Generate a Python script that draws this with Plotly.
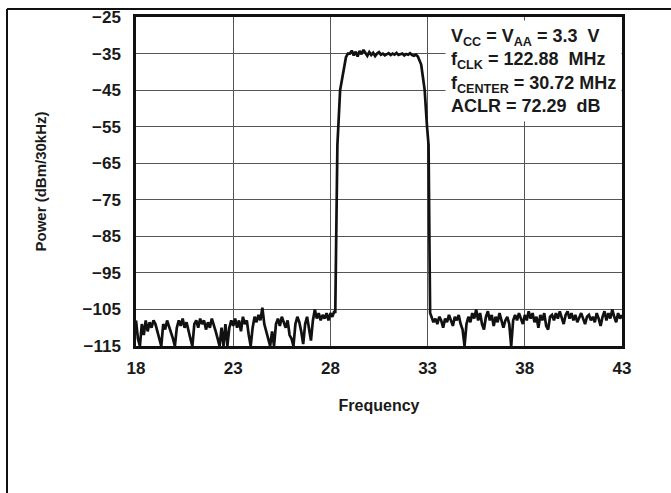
import plotly.graph_objects as go

# ---- data ----
freq_low = [18.0, 18.1, 18.2, 18.3, 18.4, 18.5, 18.6, 18.7, 18.8, 18.9,
            19.0, 19.1, 19.2, 19.3, 19.4, 19.5, 19.6, 19.7, 19.8, 19.9,
            20.0, 20.1, 20.2, 20.3, 20.4, 20.5, 20.6, 20.7, 20.8, 20.9,
            21.0, 21.1, 21.2, 21.3, 21.4, 21.5, 21.6, 21.7, 21.8, 21.9,
            22.0, 22.1, 22.2, 22.3, 22.4, 22.5, 22.6, 22.7, 22.8, 22.9,
            23.0, 23.1, 23.2, 23.3, 23.4, 23.5, 23.6, 23.7, 23.8, 23.9,
            24.0, 24.1, 24.2, 24.3, 24.4, 24.5, 24.6, 24.7, 24.8, 24.9,
            25.0, 25.1, 25.2, 25.3, 25.4, 25.5, 25.6, 25.7, 25.8, 25.9,
            26.0, 26.1, 26.2, 26.3, 26.4, 26.5, 26.6, 26.7, 26.8, 26.9,
            27.0, 27.1, 27.2, 27.3, 27.4, 27.5, 27.6, 27.7, 27.8, 27.9,
            28.0, 28.1, 28.2]
power_low = [-108, -113, -115, -109, -112, -108, -111, -108.5, -110, -108,
             -109, -111, -113, -115, -109, -110.5, -108, -109.5, -111, -113,
             -115, -110, -108, -109.5, -107.5, -110, -108.5, -111, -113, -115,
             -109, -108, -110, -107.5, -109, -108, -110.5, -108.5, -110, -107.5,
             -109, -111, -113, -115, -110, -115, -109, -115, -110, -108,
             -109.5, -107.5, -110, -108, -111, -107, -109, -108, -112, -115,
             -110, -107, -108.5, -106.5, -108, -104.5, -109, -111, -113, -115,
             -111, -115, -109, -107.5, -109.5, -107, -108.5, -110, -108, -112,
             -113, -115, -109, -107, -108.5, -111, -114.5, -109, -107, -110,
             -113.5, -108, -105, -107.5, -106, -108, -106.5, -107.5, -106, -108,
             -106, -107, -105.5]

freq_band = [28.25, 28.28, 28.33, 28.36, 28.5, 28.67, 28.8, 28.9,
             29.0, 29.1, 29.2, 29.3, 29.4, 29.5, 29.6, 29.7, 29.8, 29.9,
             30.0, 30.1, 30.2, 30.3, 30.4, 30.5, 30.6, 30.7, 30.8, 30.9,
             31.0, 31.1, 31.2, 31.3, 31.4, 31.5, 31.6, 31.7, 31.8, 31.9,
             32.0, 32.1, 32.2, 32.3, 32.4, 32.5, 32.67, 32.85, 32.97, 33.05,
             33.1, 33.13]
power_band = [-106, -90, -70, -60, -45, -39.5, -36, -35,
              -35, -34.2, -35.5, -34.5, -35.8, -34.3, -35.2, -34.0, -35.0, -35.6,
              -34.6, -35.4, -34.8, -35.7, -35.0, -34.6, -35.3, -35.0, -35.5, -35.1,
              -34.9, -35.4, -35.0, -35.3, -34.8, -35.4, -35.2, -35.0, -35.5, -35.1,
              -35.3, -34.9, -35.4, -35.6, -35.3, -35.8, -38, -45, -55, -60,
              -90, -106]

freq_high = [33.2, 33.3, 33.4, 33.5, 33.6, 33.7, 33.8, 33.9,
             34.0, 34.1, 34.2, 34.3, 34.4, 34.5, 34.6, 34.7, 34.8, 34.9,
             35.0, 35.1, 35.2, 35.3, 35.4, 35.5, 35.6, 35.7, 35.8, 35.9,
             36.0, 36.1, 36.2, 36.3, 36.4, 36.5, 36.6, 36.7, 36.8, 36.9,
             37.0, 37.1, 37.2, 37.3, 37.4, 37.5, 37.6, 37.7, 37.8, 37.9,
             38.0, 38.1, 38.2, 38.3, 38.4, 38.5, 38.6, 38.7, 38.8, 38.9,
             39.0, 39.1, 39.2, 39.3, 39.4, 39.5, 39.6, 39.7, 39.8, 39.9,
             40.0, 40.1, 40.2, 40.3, 40.4, 40.5, 40.6, 40.7, 40.8, 40.9,
             41.0, 41.1, 41.2, 41.3, 41.4, 41.5, 41.6, 41.7, 41.8, 41.9,
             42.0, 42.1, 42.2, 42.3, 42.4, 42.5, 42.6, 42.7, 42.8, 42.9,
             43.0]
power_high = [-107, -108.5, -107.5, -109, -107, -108, -110, -107.5,
              -108.5, -106.5, -108, -109.5, -107, -108, -106.5, -109, -110.5, -115,
              -109, -107, -108.5, -106, -107.5, -105, -108, -106, -109, -110.5,
              -107, -105.5, -108, -106.5, -109.5, -107, -108.5, -106, -108, -110,
              -108, -107, -109, -115, -108, -106.5, -108, -106, -107.5, -109,
              -106.5, -108, -105.5, -107.5, -106, -108.5, -107, -110, -106.5, -108,
              -106, -109.5, -110.5, -107, -106.5, -108, -106, -107.5, -105.5, -107,
              -109, -106.5, -105.5, -107.5, -106, -108, -106.5, -108.5, -107, -106,
              -107.5, -109, -107, -106.5, -108, -107, -108.5, -106, -107.5, -109.5,
              -107, -105.5, -108, -106, -107.5, -105, -107, -108.5, -106, -107.5,
              -106.5]

x_ticks = [18, 23, 28, 33, 38, 43]
y_ticks = [-25, -35, -45, -55, -65, -75, -85, -95, -105, -115]

# ---- figure ----
freq = freq_low + freq_band + freq_high
power = power_low + power_band + power_high

FONT = "Liberation Sans, Arial, Helvetica, sans-serif"
INK = "#1a1a1a"

fig = go.Figure()
fig.add_trace(go.Scatter(x=freq, y=power, mode="lines",
                         line=dict(color="#111111", width=2.7),
                         showlegend=False, hoverinfo="skip"))

L, R, T, B = 136, 622, 17, 346
W, H = 671, 493
pw, ph = R - L, B - T

def px(xp):
    return (xp - L) / pw

def py(yp):
    return 1 - (yp - T) / ph

fig.update_layout(
    width=W, height=H,
    margin=dict(l=L, r=W - R, t=T, b=H - B, pad=0, autoexpand=False),
    paper_bgcolor="white", plot_bgcolor="white",
    font=dict(family=FONT, color=INK),
    xaxis=dict(range=[18, 43], tickvals=x_ticks, ticktext=[str(v) for v in x_ticks],
               showgrid=True, gridcolor="#555555", gridwidth=1,
               showline=True, linecolor="#111111", linewidth=2.5, mirror=True,
               ticks="", ticklabelstandoff=5, zeroline=False, automargin=False,
               tickfont=dict(size=17, weight="bold", family=FONT, color=INK),
               title=dict(text="Frequency", standoff=23,
                          font=dict(size=16, weight="bold", family=FONT, color=INK))),
    yaxis=dict(range=[-115, -25], tickvals=y_ticks,
               ticktext=["\u2212" + str(abs(v)) for v in y_ticks],
               showgrid=True, gridcolor="#555555", gridwidth=1,
               showline=True, linecolor="#111111", linewidth=2.5, mirror=True,
               ticks="", ticklabelstandoff=9, zeroline=False, automargin=False,
               tickfont=dict(size=17, weight="bold", family=FONT, color=INK),
               title=dict(text="Power (dBm/30kHz)", standoff=33,
                          font=dict(size=15, weight="bold", family=FONT, color=INK))),
)

ann_text = ("V<sub>CC</sub> = V<sub>AA</sub> = 3.3  V<br>"
            "f<sub>CLK</sub> = 122.88  MHz<br>"
            "f<sub>CENTER</sub> = 30.72 MHz<br>"
            "ACLR = 72.29  dB")
fig.add_annotation(xref="paper", yref="paper", x=px(445), y=py(20),
                   xanchor="left", yanchor="top", align="left", showarrow=False,
                   text=ann_text, bgcolor="white", borderpad=5,
                   font=dict(size=18, weight="bold", family=FONT, color=INK))

# outer frame (top and left edges)
fig.add_shape(type="line", xref="paper", yref="paper",
              x0=px(7), x1=1.0 + (W - R) / pw, y0=py(9), y1=py(9),
              line=dict(color="#111111", width=2), layer="above")
fig.add_shape(type="line", xref="paper", yref="paper",
              x0=px(7), x1=px(7), y0=py(9), y1=-(H - B) / ph,
              line=dict(color="#111111", width=2), layer="above")

fig.write_html("out.html", config={"displayModeBar": False},
               post_script="document.body.style.margin='0';document.body.style.padding='0';"
                           "document.documentElement.style.overflow='hidden';")
